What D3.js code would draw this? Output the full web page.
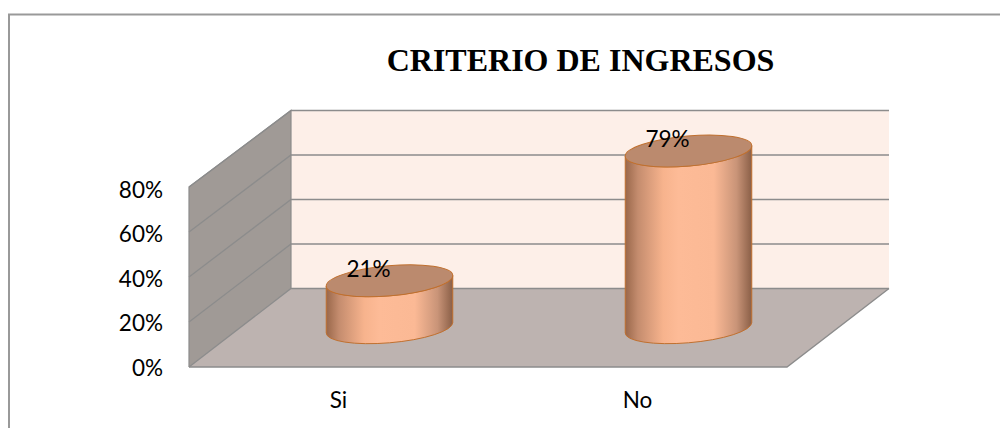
<!DOCTYPE html>
<html><head><meta charset="utf-8">
<script src="https://cdnjs.cloudflare.com/ajax/libs/d3/7.8.5/d3.min.js"></script>
<style>html,body{margin:0;padding:0;background:#fff}svg{display:block}</style>
</head><body><svg id="c" width="1000" height="428"></svg>
<script>
const categories = ["Si", "No"];
const values = [21, 79];
const valueLabels = ["21%", "79%"];
const yTicks = [0, 20, 40, 60, 80];
const titleText = "CRITERIO DE INGRESOS";

const W = 1000, H = 428;
const svg = d3.select("#c").attr("viewBox", `0 0 ${W} ${H}`);
const x = d3.scaleBand().domain(categories).range([189, 787]);
const y = d3.scaleLinear().domain([0, 80]).range([367, 187]);
const yBack = d3.scaleLinear().domain([0, 80]).range([288.5, 110.5]);
const yLabel = d3.scaleLinear().domain([0, 80]).range([367, 189]);
const depthX = 102;
const barDepth = 0.5;
const rx = 63.5, ry = 15, tilt = -5;

const defs = svg.append("defs");
const g = defs.append("linearGradient").attr("id", "cyl").attr("x1", 0).attr("x2", 1).attr("y1", 0).attr("y2", 0);
[[0, "#99674a"], [0.1, "#c48c6e"], [0.3, "#f7b38d"], [0.42, "#fdbb97"], [0.7, "#fbb995"], [0.88, "#c99478"], [1, "#8a5f47"]]
  .forEach(([o, c]) => g.append("stop").attr("offset", o).attr("stop-color", c));

const line = d3.line();

// outer frame
svg.append("path").attr("d", line([[9, H], [9, 14.5], [W, 14.5]])).attr("fill", "none").attr("stroke", "#999").attr("stroke-width", 2);

const x0 = x.range()[0], x1 = x.range()[1];
const p = (xv, v, f) => [xv + depthX * f, y(v) + (yBack(v) - y(v)) * f];

// back wall
svg.append("path").attr("d", line([p(x0, 0, 1), p(x0, 80, 1), p(x1, 80, 1), p(x1, 0, 1)]) + "Z").attr("fill", "#fdefe8");
// floor
svg.append("path").attr("d", line([p(x0, 0, 0), p(x1, 0, 0), p(x1, 0, 1), p(x0, 0, 1)]) + "Z").attr("fill", "#bdb3b0");
// side wall
svg.append("path").attr("d", line([p(x0, 0, 0), p(x0, 80, 0), p(x0, 80, 1), p(x0, 0, 1)]) + "Z").attr("fill", "#a09a96");

// gridlines
yTicks.forEach(t => {
  svg.append("path").attr("d", line([p(x0, t, 0), p(x0, t, 1), p(x1, t, 1)]))
    .attr("fill", "none").attr("stroke", "#8c8c8c").attr("stroke-width", 1.3);
});
svg.append("path").attr("d", line([p(x0, 0, 0), p(x0, 80, 0), p(x0, 80, 1), p(x0, 0, 1)]))
  .attr("fill", "none").attr("stroke", "#8c8c8c").attr("stroke-width", 1.2);
svg.append("path").attr("d", line([p(x1, 0, 1), p(x1, 0, 0), p(x0, 0, 0)]))
  .attr("fill", "none").attr("stroke", "#8c8c8c").attr("stroke-width", 1.4);

// axis labels via d3 axes
const yAxis = d3.axisLeft(yLabel).tickValues(yTicks).tickFormat(d => d + "%").tickSize(0).tickPadding(26);
const ya = svg.append("g").attr("transform", `translate(${x0},0)`).call(yAxis);
ya.select(".domain").remove();
ya.selectAll("text").attr("font-family", "Lato, sans-serif").attr("font-size", 22.5).attr("fill", "#000").attr("dy", "0.36em");

const xAxis = d3.axisBottom(x).tickSize(0).tickPadding(25.5);
const xa = svg.append("g").attr("transform", `translate(0,${y(0)})`).call(xAxis);
xa.select(".domain").remove();
xa.selectAll("text").attr("font-family", "Lato, sans-serif").attr("font-size", 22.5).attr("fill", "#000").attr("dy", "0.71em");

// cylinders
const theta = tilt * Math.PI / 180;
const ex = Math.sqrt(rx*rx*Math.cos(theta)**2 + ry*ry*Math.sin(theta)**2);
const ey = (rx*rx - ry*ry) * Math.sin(theta) * Math.cos(theta) / ex;
const marks = svg.append("g").selectAll("g").data(categories.map((c, i) => ({c, v: values[i], l: valueLabels[i]}))).join("g");
marks.each(function(d) {
  const sel = d3.select(this);
  const cx = x(d.c) + x.bandwidth() / 2 + depthX * barDepth;
  const by = p(0, 0, barDepth)[1];
  const ty = p(0, d.v, barDepth)[1];
  const body = `M${cx - ex},${ty - ey}L${cx - ex},${by - ey}A${rx},${ry} ${tilt} 0 0 ${cx + ex},${by + ey}L${cx + ex},${ty + ey}A${rx},${ry} ${tilt} 0 1 ${cx - ex},${ty - ey}Z`;
  sel.append("path").attr("d", body).attr("fill", "url(#cyl)").attr("stroke", "#c0702f").attr("stroke-width", 1);
  sel.append("ellipse").attr("cx", 0).attr("cy", 0).attr("rx", rx).attr("ry", ry)
    .attr("transform", `translate(${cx},${ty}) rotate(${tilt})`)
    .attr("fill", "#bb8a6e").attr("stroke", "#c0702f").attr("stroke-width", 1);
  sel.append("text").attr("x", cx - 21).attr("y", ty - 4).attr("text-anchor", "middle")
    .attr("font-family", "Lato, sans-serif").attr("font-size", 22.5).attr("fill", "#000").text(d.l);
});

svg.append("text").attr("x", 580.5).attr("y", 71).attr("text-anchor", "middle")
  .attr("font-family", "'Liberation Serif', serif").attr("font-weight", "bold").attr("font-size", 32).attr("fill", "#000").text(titleText);
</script></body></html>
